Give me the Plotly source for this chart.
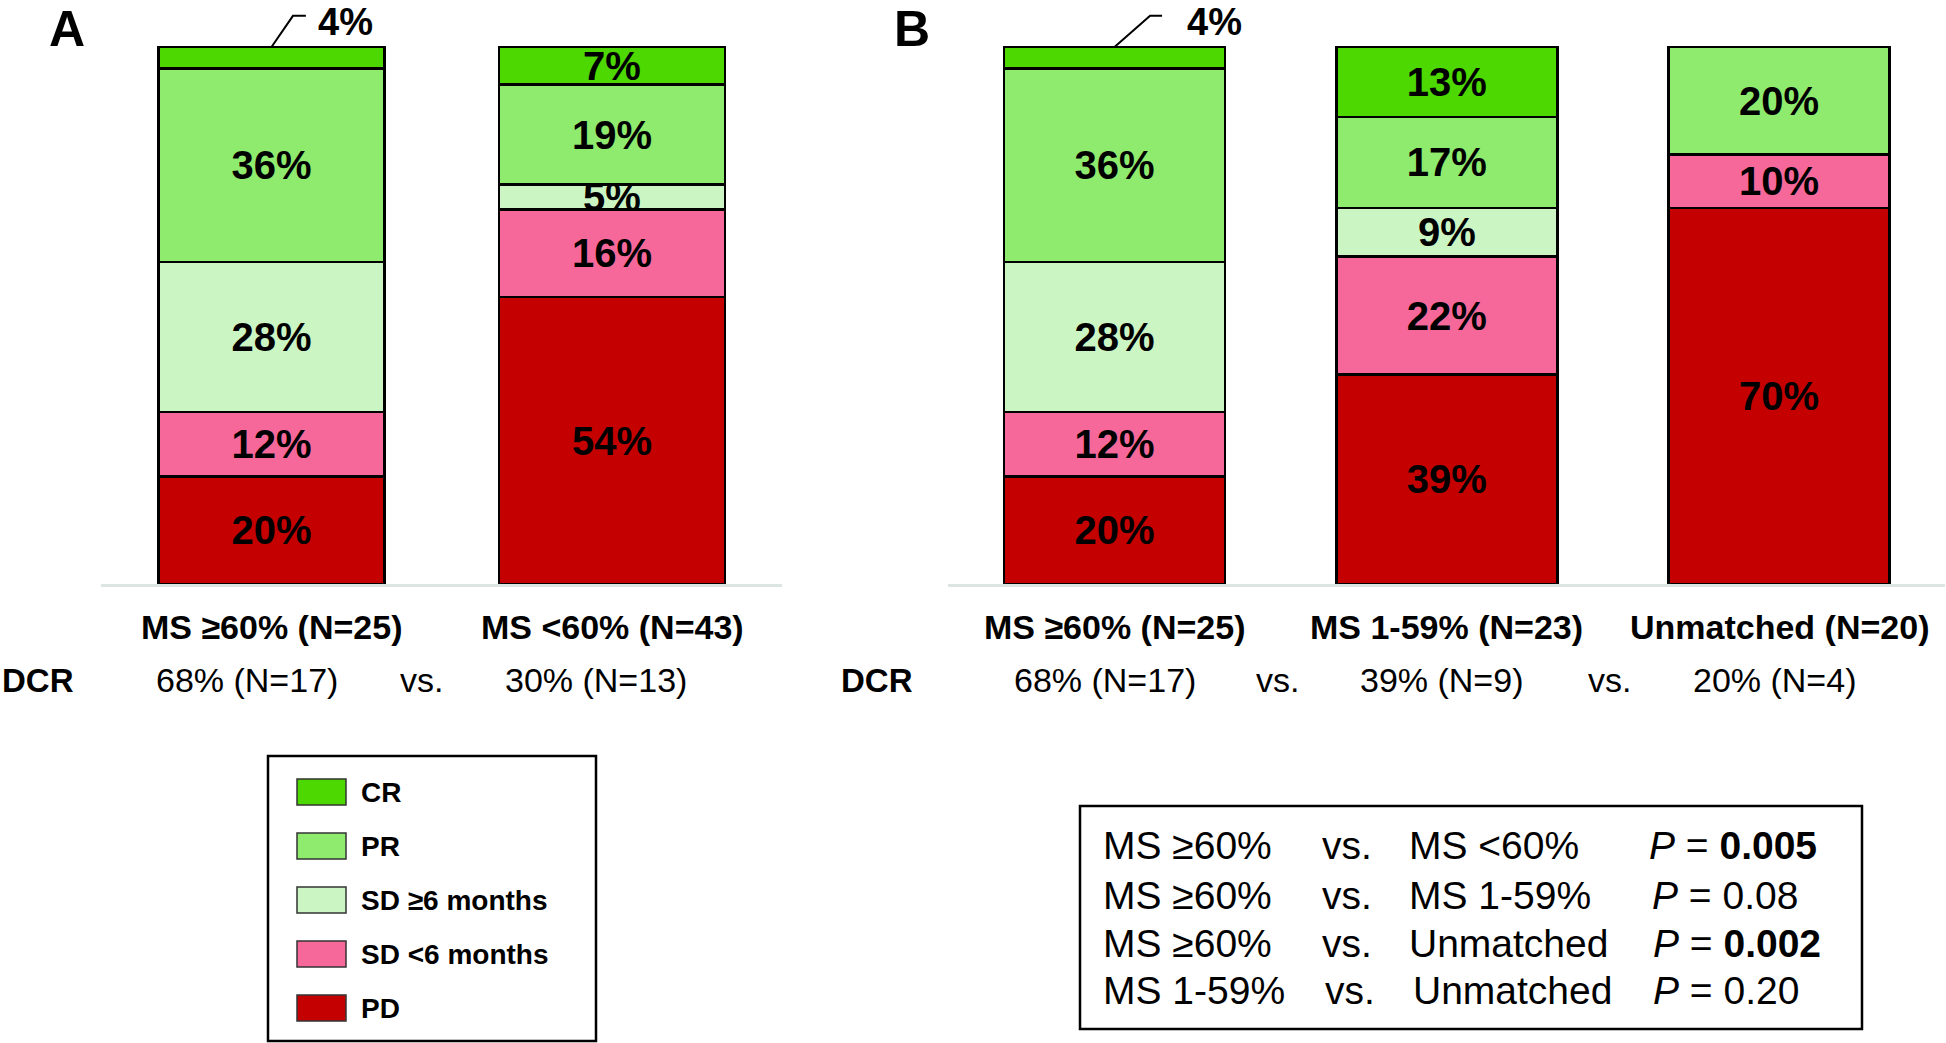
import plotly.graph_objects as go

W, H = 1946, 1043
FONT = "Liberation Sans, Arial, sans-serif"

# ---------------- data ----------------
statuses = ["PD", "SD <6 months", "SD ≥6 months", "PR", "CR"]          # stack order (bottom -> top)
legend_names = ["CR", "PR", "SD ≥6 months", "SD <6 months", "PD"]      # legend order (top -> bottom)
colors = {"CR": "#4cd800", "PR": "#8eeb6e", "SD ≥6 months": "#ccf5c4",
          "SD <6 months": "#f7689a", "PD": "#c40000"}

groups_A = ["MS ≥60% (N=25)", "MS <60% (N=43)"]
pd_A = [20, 53.4]
sdl_A = [12, 16.3]
sdg_A = [28, 4.7]
pr_A = [36, 18.6]
cr_A = [4, 7.0]
pd_A_lbl = ["20%", "54%"]
sdl_A_lbl = ["12%", "16%"]
sdg_A_lbl = ["28%", "5%"]
pr_A_lbl = ["36%", "19%"]
cr_A_lbl = ["", "7%"]
dcr_A = ["68% (N=17)", "30% (N=13)"]

groups_B = ["MS ≥60% (N=25)", "MS 1-59% (N=23)", "Unmatched (N=20)"]
pd_B = [20, 39, 70]
sdl_B = [12, 22, 10]
sdg_B = [28, 9, 0]
pr_B = [36, 17, 20]
cr_B = [4, 13, 0]
pd_B_lbl = ["20%", "39%", "70%"]
sdl_B_lbl = ["12%", "22%", "10%"]
sdg_B_lbl = ["28%", "9%", ""]
pr_B_lbl = ["36%", "17%", "20%"]
cr_B_lbl = ["", "13%", ""]
dcr_B = ["68% (N=17)", "39% (N=9)", "20% (N=4)"]

small_label = "4%"

p_rows = [
    ("MS ≥60%", "vs.", "MS <60%", "<i>P</i> = <b>0.005</b>"),
    ("MS ≥60%", "vs.", "MS 1-59%", "<i>P</i> = 0.08"),
    ("MS ≥60%", "vs.", "Unmatched", "<i>P</i> = <b>0.002</b>"),
    ("MS 1-59%", "vs.", "Unmatched", "<i>P</i> = 0.20"),
]

vals_A = [pd_A, sdl_A, sdg_A, pr_A, cr_A]
lbls_A = [pd_A_lbl, sdl_A_lbl, sdg_A_lbl, pr_A_lbl, cr_A_lbl]
vals_B = [pd_B, sdl_B, sdg_B, pr_B, cr_B]
lbls_B = [pd_B_lbl, sdl_B_lbl, sdg_B_lbl, pr_B_lbl, cr_B_lbl]


def px(x):
    return x / W


def py(y):
    return 1 - y / H


fig = go.Figure()
for i, s in enumerate(statuses):
    for xa, groups, vals, lbls in (("x", groups_A, vals_A, lbls_A), ("x2", groups_B, vals_B, lbls_B)):
        fig.add_trace(go.Bar(
            x=groups, y=vals[i], text=lbls[i], name=s, xaxis=xa, yaxis="y",
            marker=dict(color=colors[s], line=dict(color="black", width=2.5)),
            textposition="inside", insidetextanchor="middle", textangle=0,
            textfont=dict(family=FONT, size=40, color="black", weight="bold"),
            showlegend=False, hoverinfo="skip"))

base_bottom = 584
unit = 5.37
fig.update_layout(
    width=W, height=H, margin=dict(l=0, r=0, t=0, b=0),
    paper_bgcolor="white", plot_bgcolor="white",
    barmode="stack", bargap=0.335,
    uniformtext=dict(minsize=40, mode="show"),
    xaxis=dict(domain=[px(101.25), px(782.25)], anchor="y", showline=True, linecolor="#dde5e2",
               linewidth=3, showticklabels=False, ticks="", showgrid=False, zeroline=False, fixedrange=True),
    xaxis2=dict(domain=[px(948.4), px(1945.2)], anchor="y", showline=True, linecolor="#dde5e2",
                linewidth=3, showticklabels=False, ticks="", showgrid=False, zeroline=False, fixedrange=True),
    yaxis=dict(domain=[py(base_bottom), 1], range=[0, base_bottom / unit], visible=False,
               showgrid=False, zeroline=False, fixedrange=True),
    font=dict(family=FONT, color="black"),
)

ann = []
shapes = []

# panel letters
for letter, xc in (("A", 67), ("B", 912)):
    ann.append(dict(text=f"<b>{letter}</b>", x=px(xc), y=1, xref="paper", yref="paper", borderpad=0,
                    showarrow=False, font=dict(size=50), xanchor="center", yanchor="top"))

# small 4% labels with bent leader lines
for xa, (lx1, lx2, tx) in (("x", (0.063, 0.101, 0.216)), ("x2", (0.107, 0.143, 0.302))):
    top = 100
    ly = 105.8
    shapes.append(dict(type="path", xref=xa, yref="y",
                       path=f"M 0.0,{top} L {lx1},{ly} L {lx2},{ly}",
                       line=dict(color="black", width=2)))
    ann.append(dict(text=f"<b>{small_label}</b>", x=tx, y=1, xref=xa, yref="paper", showarrow=False,
                    borderpad=0, font=dict(size=38), xanchor="center", yanchor="top"))

# category labels + DCR row
cat_y = py(627)
dcr_y = py(680)
for xa, groups, dcrs, shifts in (("x", groups_A, dcr_A, [-25, -16]), ("x2", groups_B, dcr_B, [-10, -5, -5])):
    for j, g in enumerate(groups):
        ann.append(dict(text=f"<b>{g}</b>", x=j, y=cat_y, xref=xa, yref="paper", showarrow=False,
                        font=dict(size=34), xanchor="center", yanchor="middle"))
        ann.append(dict(text=dcrs[j], x=j, y=dcr_y, xref=xa, yref="paper", showarrow=False,
                        xshift=shifts[j], font=dict(size=34), xanchor="center", yanchor="middle"))
ann.append(dict(text="vs.", x=0.5, y=dcr_y, xref="x", yref="paper", showarrow=False, xshift=-20,
                font=dict(size=34), xanchor="center", yanchor="middle"))
for xv in (0.5, 1.5):
    ann.append(dict(text="vs.", x=xv, y=dcr_y, xref="x2", yref="paper", showarrow=False, xshift=-3,
                    font=dict(size=34), xanchor="center", yanchor="middle"))
ann.append(dict(text="<b>DCR</b>", x=0, y=dcr_y, xref="paper", yref="paper", showarrow=False,
                font=dict(size=33), xanchor="left", yanchor="middle"))
ann.append(dict(text="<b>DCR</b>", x=px(839), y=dcr_y, xref="paper", yref="paper", showarrow=False,
                font=dict(size=33), xanchor="left", yanchor="middle"))

# legend box (custom, large swatches)
shapes.append(dict(type="rect", xref="paper", yref="paper", x0=px(268), x1=px(596), y0=py(1041), y1=py(756),
                   line=dict(color="black", width=2.5), fillcolor="rgba(0,0,0,0)"))
leg_y0, leg_dy = 792, 54
for k, name in enumerate(legend_names):
    yc = leg_y0 + k * leg_dy
    shapes.append(dict(type="rect", xref="paper", yref="paper", x0=px(297), x1=px(346),
                       y0=py(yc + 13), y1=py(yc - 13), fillcolor=colors[name],
                       line=dict(color="#333333", width=1.5)))
    ann.append(dict(text=f"<b>{name}</b>", x=px(359), y=py(yc), xref="paper", yref="paper", showarrow=False,
                    font=dict(size=28), xanchor="left", yanchor="middle"))

# P-value box
shapes.append(dict(type="rect", xref="paper", yref="paper", x0=px(1080), x1=px(1862), y0=py(1029), y1=py(806),
                   line=dict(color="black", width=2.5), fillcolor="rgba(0,0,0,0)"))
row_y = [845, 895, 943, 990]
col_x = [[1101, 1320, 1407, 1647], [1101, 1320, 1407, 1650], [1101, 1320, 1407, 1651], [1101, 1323, 1411, 1651]]
for r, row in enumerate(p_rows):
    for c, txt in enumerate(row):
        ann.append(dict(text=txt, x=px(col_x[r][c]), y=py(row_y[r]), xref="paper", yref="paper",
                        showarrow=False, font=dict(size=39), xanchor="left", yanchor="middle"))

fig.update_layout(annotations=ann, shapes=shapes)

fig.write_html("out.html", config={"displayModeBar": False},
               post_script="document.body.style.margin='0';document.body.style.overflow='hidden';")
